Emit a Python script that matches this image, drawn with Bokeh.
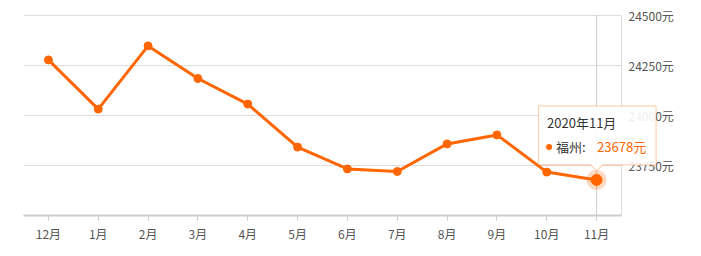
from bokeh.plotting import figure
from bokeh.models import Range1d, FixedTicker, PolyAnnotation, Label
from bokeh.core.properties import value
from bokeh.embed import file_html
from bokeh.resources import INLINE

months = ["12月", "1月", "2月", "3月", "4月", "5月", "6月", "7月", "8月", "9月", "10月", "11月"]
prices = [24278, 24032, 24348, 24185, 24057, 23842, 23733, 23720, 23858, 23903, 23717, 23678]
y_ticks = [23750, 24000, 24250, 24500]
y_min, y_max = 23500, 24500
city = "福州"
hover_title = "2020年11月"
unit = "元"

ORANGE = "#ff6600"
FONT = "Noto Sans CJK SC"
W, H = 701, 256
L, T, B = 23, 15, 41
plot_w, plot_h = 598, 200          # size of the category/value area in px
n = len(months)
cat_px = plot_w / n
sy = (y_max - y_min) / plot_h      # value units per px
fw, fh = W - L, H - B
x_end = fw / cat_px                # frame extends beyond categories for the value labels
y_top = y_max + T * sy             # and above the top grid line

xs = [i + 0.5 for i in range(n)]

p = figure(width=W, height=H, x_range=Range1d(0, x_end), y_range=Range1d(y_min, y_top),
           output_backend="svg", toolbar_location=None,
           min_border_left=L, min_border_right=0, min_border_top=0, min_border_bottom=B,
           y_axis_location=None)
p.outline_line_color = None
p.background_fill_color = "white"
p.border_fill_color = "white"
p.xgrid.grid_line_color = None
p.ygrid.grid_line_color = None

# horizontal grid lines and right border over the category area
p.segment(x0=[0] * len(y_ticks), y0=y_ticks, x1=[n] * len(y_ticks), y1=y_ticks,
          line_color="#dddddd", line_width=1)
p.segment(x0=[n], y0=[y_min], x1=[n], y1=[y_max], line_color="#dddddd", line_width=1)

# y tick labels on the right of the category area
p.text(x=[n] * len(y_ticks), y=y_ticks, text=[f"{t}{unit}" for t in y_ticks],
       x_offset=7, text_align="left", text_baseline="middle",
       text_font=value(FONT), text_font_size="12px", text_color="#555555")

# x axis
xa = p.xaxis[0]
xa.ticker = FixedTicker(ticks=xs)
xa.major_label_overrides = {x: m for x, m in zip(xs, months)}
xa.bounds = (0, n)
xa.minor_tick_line_color = None
xa.axis_line_color = "#cccccc"
xa.axis_line_width = 2
xa.major_tick_line_color = "#cccccc"
xa.major_tick_out = 5
xa.major_tick_in = 0
xa.major_label_standoff = 4
xa.major_label_text_color = "#555555"
xa.major_label_text_font = FONT
xa.major_label_text_font_size = "12px"

# crosshair at hovered month
cx = xs[-1]
cy = prices[-1]
p.segment(x0=[cx], y0=[y_min], x1=[cx], y1=[y_max], line_color="#cccccc", line_width=1)

# series
p.line(xs, prices, line_color=ORANGE, line_width=3)
p.scatter(xs, prices, size=8, fill_color=ORANGE, line_color=ORANGE)

# hovered point
p.scatter([cx], [cy], size=20, fill_color=ORANGE, fill_alpha=0.25, line_color=None)
p.scatter([cx], [cy], size=11, fill_color=ORANGE, line_color=ORANGE)

# tooltip
sx = 1 / cat_px

def dx(px):
    return cx + px * sx

def dy(py):
    return cy - py * sy

shape = [(-58, -74), (59.5, -74), (59.5, -15), (6, -15), (0, -9), (-6, -15), (-58, -15)]
p.add_layout(PolyAnnotation(xs=[dx(a) for a, b in shape], ys=[dy(b) for a, b in shape],
                            fill_color="white", fill_alpha=0.9, line_color=ORANGE, line_width=1.2))

p.add_layout(Label(x=dx(-49.5), y=dy(-57), text=hover_title, text_font=FONT, text_font_size="13px",
                   text_color="#333333", text_align="left", text_baseline="middle"))
p.scatter([dx(-47.5)], [dy(-33)], size=6, fill_color=ORANGE, line_color=None, level="overlay")
p.add_layout(Label(x=dx(-40.5), y=dy(-33), text=city + ":", text_font=FONT, text_font_size="13px",
                   text_color="#333333", text_align="left", text_baseline="middle"))
p.add_layout(Label(x=dx(0.5), y=dy(-33), text=f"{prices[-1]}{unit}", text_font=FONT, text_font_size="13px",
                   text_color=ORANGE, text_align="left", text_baseline="middle"))

open("out.html", "w").write(file_html(p, INLINE))
